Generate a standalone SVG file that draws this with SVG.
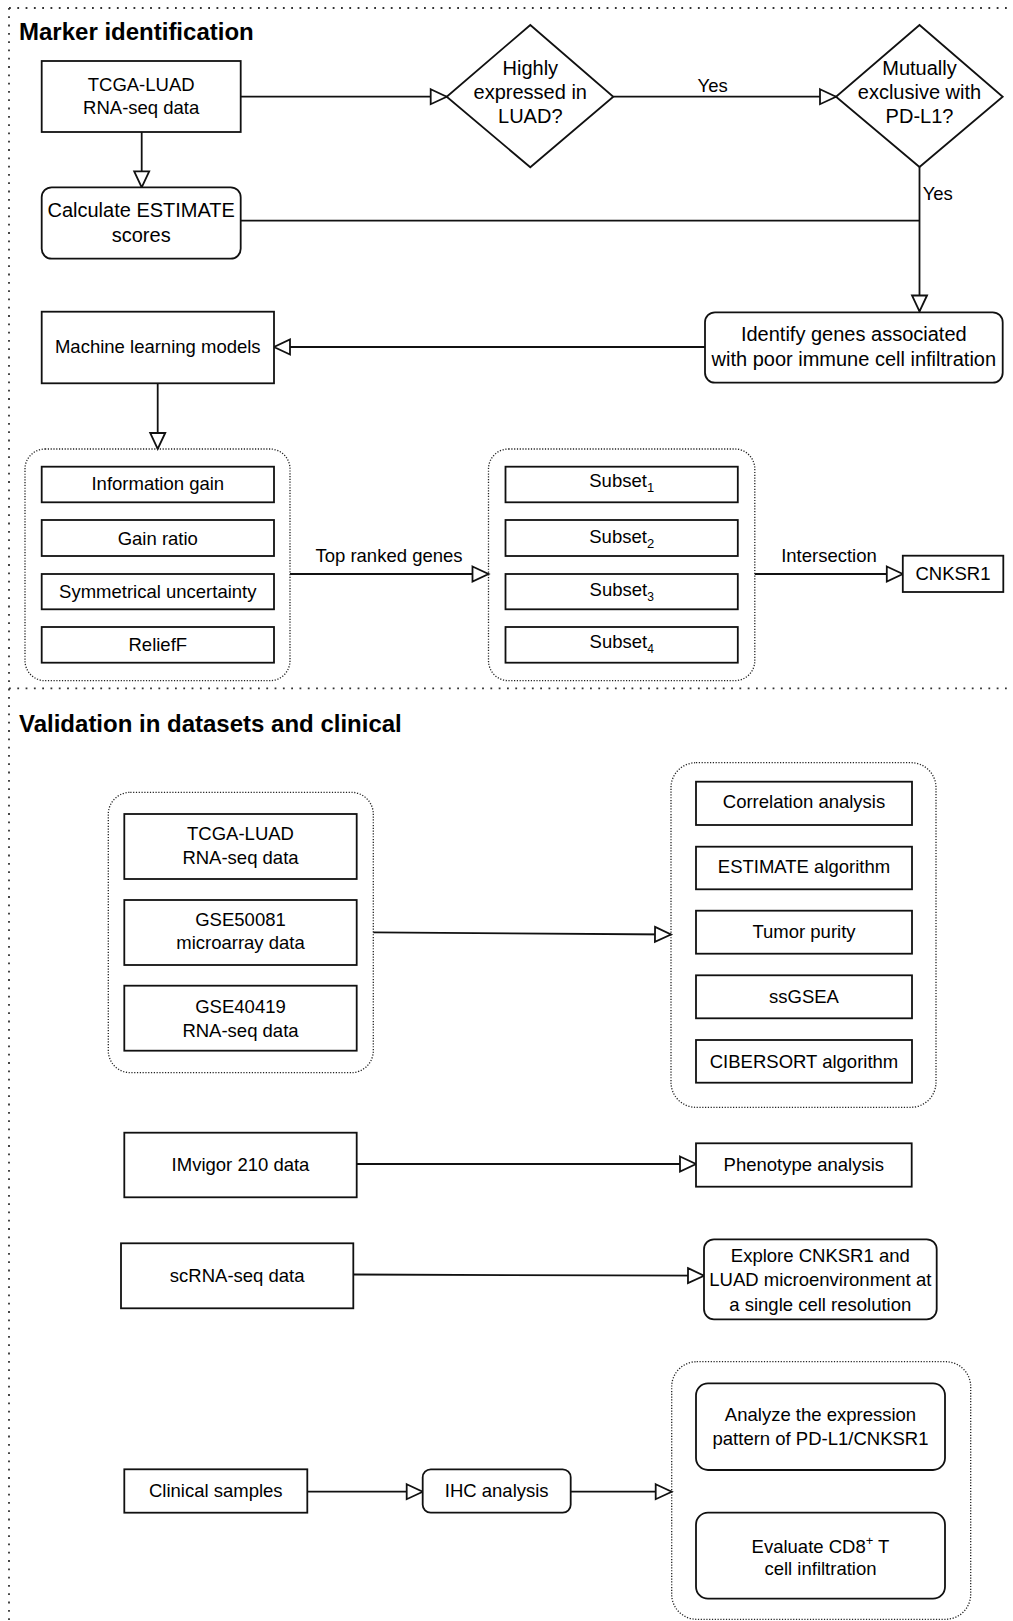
<svg xmlns="http://www.w3.org/2000/svg" width="1013" height="1621" viewBox="0 0 1013 1621">
<defs>
<style>
text{font-family:"Liberation Sans",Arial,sans-serif;fill:#000;}
.t{font-size:18.5px;text-anchor:middle;}
.tl{font-size:20px;text-anchor:middle;}
.lbl{font-size:18.5px;}
.title{font-size:24px;font-weight:bold;}
.box{fill:#fff;stroke:#111;stroke-width:1.8;}
.grp{fill:none;stroke:#222;stroke-width:1.3;stroke-dasharray:1.2 1.6;}
.frame{fill:none;stroke:#333;stroke-width:1.8;stroke-dasharray:1.8 6.5;}
.c{fill:none;stroke:#111;stroke-width:1.8;}
.a{marker-end:url(#arr);}
</style>
<marker id="arr" markerUnits="userSpaceOnUse" markerWidth="20" markerHeight="20" refX="16" refY="7.5" orient="auto" overflow="visible">
<path d="M0,0 L16,7.5 L0,15 Z" fill="#fff" stroke="#111" stroke-width="1.8" stroke-linejoin="miter"/>
</marker>
</defs>
<rect width="1013" height="1621" fill="#fff"/>

<g id="frame">
<line class="frame" x1="9" y1="8" x2="1013" y2="8"/>
<line class="frame" x1="9" y1="8" x2="9" y2="1621"/>
<line class="frame" x1="9" y1="688.3" x2="1013" y2="688.3"/>
<text class="title" x="19" y="40">Marker identification</text>
<text class="title" x="19" y="731.7">Validation in datasets and clinical</text>
</g>

<g id="connectors">
<line class="c a" x1="240.7" y1="96.7" x2="446.7" y2="96.7"/>
<line class="c a" x1="141.7" y1="132" x2="141.7" y2="187.3"/>
<line class="c a" x1="613.3" y1="96.7" x2="836" y2="96.7"/>
<text class="lbl" x="712.7" y="91.7" text-anchor="middle">Yes</text>
<line class="c a" x1="919.5" y1="167" x2="919.5" y2="311.5"/>
<text class="lbl" x="922.7" y="200">Yes</text>
<line class="c" x1="240.7" y1="220.7" x2="919.5" y2="220.7"/>
<line class="c a" x1="705" y1="347" x2="274" y2="347"/>
<line class="c a" x1="157.7" y1="383.3" x2="157.7" y2="449"/>
<line class="c a" x1="290" y1="574" x2="488.5" y2="574"/>
<text class="lbl" x="389" y="562.3" text-anchor="middle">Top ranked genes</text>
<line class="c a" x1="754.8" y1="574" x2="902.8" y2="574"/>
<text class="lbl" x="829" y="561.7" text-anchor="middle">Intersection</text>
<line class="c a" x1="373.3" y1="932.3" x2="671" y2="934.5"/>
<line class="c a" x1="356.7" y1="1164" x2="696" y2="1164"/>
<line class="c a" x1="353.3" y1="1274.5" x2="704" y2="1275.7"/>
<line class="c a" x1="307.3" y1="1491.7" x2="422.7" y2="1491.7"/>
<line class="c a" x1="570.7" y1="1491.7" x2="671.7" y2="1491.7"/>
</g>

<g id="tcga">
<rect class="box" x="41.7" y="61" width="199" height="71"/>
<text class="t" x="141.2" y="90.7">TCGA-LUAD</text>
<text class="t" x="141.2" y="114">RNA-seq data</text>
</g>
<g id="estimate">
<rect class="box" x="41.7" y="187.3" width="199" height="71.4" rx="10"/>
<text class="tl" x="141.2" y="217">Calculate ESTIMATE</text>
<text class="tl" x="141.2" y="241.7">scores</text>
</g>
<g id="highly">
<polygon class="box" points="530.3,25 613.3,96.7 530.3,167.3 446.7,96.7"/>
<text class="tl" x="530.3" y="75">Highly</text>
<text class="tl" x="530.3" y="99">expressed in</text>
<text class="tl" x="530.3" y="123.3">LUAD?</text>
</g>
<g id="mutual">
<polygon class="box" points="919.5,25 1002.7,96.7 919.5,167 836,96.7"/>
<text class="tl" x="919.5" y="75">Mutually</text>
<text class="tl" x="919.5" y="99">exclusive with</text>
<text class="tl" x="919.5" y="123.3">PD-L1?</text>
</g>
<g id="identify">
<rect class="box" x="705" y="312.3" width="297.7" height="70.4" rx="10"/>
<text class="tl" x="853.8" y="340.7">Identify genes associated</text>
<text class="tl" x="853.8" y="365.7">with poor immune cell infiltration</text>
</g>
<g id="ml">
<rect class="box" x="41.7" y="311.7" width="232.3" height="71.6"/>
<text class="t" x="157.8" y="352.7">Machine learning models</text>
</g>

<g id="methods">
<rect class="grp" x="25" y="449" width="265" height="231.7" rx="20"/>
<rect class="box" x="41.7" y="466.7" width="232.3" height="35.6"/>
<text class="t" x="157.8" y="490">Information gain</text>
<rect class="box" x="41.7" y="520" width="232.3" height="36"/>
<text class="t" x="157.8" y="545">Gain ratio</text>
<rect class="box" x="41.7" y="574" width="232.3" height="35.3"/>
<text class="t" x="157.8" y="598.3">Symmetrical uncertainty</text>
<rect class="box" x="41.7" y="627" width="232.3" height="35.7"/>
<text class="t" x="157.8" y="651">ReliefF</text>
</g>

<g id="subsets">
<rect class="grp" x="488.5" y="449" width="266.3" height="231.7" rx="20"/>
<rect class="box" x="505.5" y="466.7" width="232.3" height="35.6"/>
<text class="t" x="621.7" y="486.7">Subset<tspan font-size="13" dy="5">1</tspan></text>
<rect class="box" x="505.5" y="520" width="232.3" height="36"/>
<text class="t" x="621.7" y="543.3">Subset<tspan font-size="13" dy="5">2</tspan></text>
<rect class="box" x="505.5" y="574" width="232.3" height="35.3"/>
<text class="t" x="621.7" y="595.7">Subset<tspan font-size="12" dy="5">3</tspan></text>
<rect class="box" x="505.5" y="627" width="232.3" height="35.7"/>
<text class="t" x="621.7" y="648.3">Subset<tspan font-size="12" dy="5">4</tspan></text>
</g>

<g id="cnksr1">
<rect class="box" x="902.8" y="555.7" width="100.5" height="36.3"/>
<text class="t" x="953" y="580">CNKSR1</text>
</g>

<g id="datasets">
<rect class="grp" x="108.3" y="792.3" width="265" height="280.4" rx="22"/>
<rect class="box" x="124.3" y="814" width="232.4" height="65"/>
<text class="t" x="240.5" y="840">TCGA-LUAD</text>
<text class="t" x="240.5" y="864">RNA-seq data</text>
<rect class="box" x="124.3" y="900" width="232.4" height="65"/>
<text class="t" x="240.5" y="926">GSE50081</text>
<text class="t" x="240.5" y="949.3">microarray data</text>
<rect class="box" x="124.3" y="985.7" width="232.4" height="65"/>
<text class="t" x="240.5" y="1012.7">GSE40419</text>
<text class="t" x="240.5" y="1036.7">RNA-seq data</text>
</g>

<g id="analyses">
<rect class="grp" x="671" y="762.7" width="265" height="344.6" rx="25"/>
<rect class="box" x="696" y="781.7" width="216" height="43.3"/>
<text class="t" x="804" y="808.3">Correlation analysis</text>
<rect class="box" x="696" y="846.7" width="216" height="42.6"/>
<text class="t" x="804" y="873.3">ESTIMATE algorithm</text>
<rect class="box" x="696" y="910.7" width="216" height="43"/>
<text class="t" x="804" y="937.7">Tumor purity</text>
<rect class="box" x="696" y="975.3" width="216" height="43"/>
<text class="t" x="804" y="1002.7">ssGSEA</text>
<rect class="box" x="696" y="1040" width="216" height="42.7"/>
<text class="t" x="804" y="1068.3">CIBERSORT algorithm</text>
</g>

<g id="imvigor">
<rect class="box" x="124.3" y="1132.7" width="232.4" height="64.6"/>
<text class="t" x="240.5" y="1171">IMvigor 210 data</text>
</g>
<g id="phenotype">
<rect class="box" x="696" y="1143.3" width="215.7" height="43.4"/>
<text class="t" x="803.8" y="1171">Phenotype analysis</text>
</g>
<g id="scrna">
<rect class="box" x="121" y="1243.3" width="232.3" height="65"/>
<text class="t" x="237.2" y="1282.3">scRNA-seq data</text>
</g>
<g id="explore">
<rect class="box" x="704" y="1239.3" width="232.7" height="80" rx="10"/>
<text class="t" x="820.3" y="1261.7">Explore CNKSR1 and</text>
<text class="t" x="820.3" y="1286">LUAD microenvironment at</text>
<text class="t" x="820.3" y="1311">a single cell resolution</text>
</g>
<g id="clinical">
<rect class="box" x="124.3" y="1469.3" width="183" height="43.4"/>
<text class="t" x="215.8" y="1496.7">Clinical samples</text>
</g>
<g id="ihc">
<rect class="box" x="422.7" y="1469.3" width="148" height="43.4" rx="8"/>
<text class="t" x="496.7" y="1496.7">IHC analysis</text>
</g>
<g id="ihc-results">
<rect class="grp" x="671.7" y="1361.7" width="299" height="257.6" rx="25"/>
<rect class="box" x="696" y="1383.3" width="249" height="86.7" rx="12"/>
<text class="t" x="820.5" y="1421">Analyze the expression</text>
<text class="t" x="820.5" y="1445">pattern of PD-L1/CNKSR1</text>
<rect class="box" x="696" y="1512.7" width="249" height="86" rx="12"/>
<text class="t" x="820.5" y="1552.7">Evaluate CD8<tspan font-size="13" dy="-8">+</tspan><tspan dy="8"> T</tspan></text>
<text class="t" x="820.5" y="1575">cell infiltration</text>
</g>
</svg>
